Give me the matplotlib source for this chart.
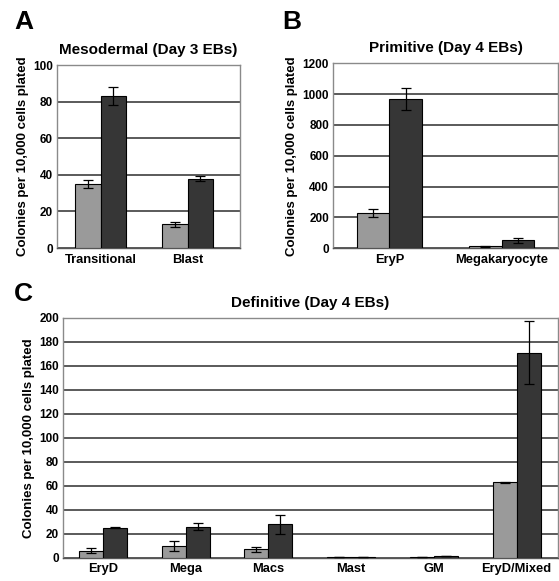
import matplotlib.pyplot as plt
import numpy as np

plt.rcParams['font.family'] = ['Liberation Sans', 'DejaVu Sans']
plt.rcParams['font.weight'] = 'bold'

# panel A: mesodermal (day 3)
cats_a = ['Transitional', 'Blast']
light_a = [35, 13]
light_a_err = [2, 1.5]
dark_a = [83, 38]
dark_a_err = [5, 1.5]

# panel B: primitive (day 4)
cats_b = ['EryP', 'Megakaryocyte']
light_b = [230, 12]
light_b_err = [25, 3]
dark_b = [970, 50]
dark_b_err = [70, 15]

# panel C: definitive (day 4)
cats_c = ['EryD', 'Mega', 'Macs', 'Mast', 'GM', 'EryD/Mixed']
light_c = [6, 10, 7, 0.5, 0.5, 63]
light_c_err = [2, 4, 2, 0, 0, 0.5]
dark_c = [25, 26, 28, 0.5, 1.5, 171]
dark_c_err = [0.5, 3, 8, 0, 0, 26]

LIGHT = '#9a9a9a'
DARK = '#363636'
GRID = '#5a5a5a'
BW = 0.29


def panel(ax, cats, light, lerr, dark, derr, ymax, step, title, xlim):
    x = np.arange(len(cats))
    ax.bar(x - BW / 2, light, BW, color=LIGHT, edgecolor='black', linewidth=0.8, zorder=3)
    ax.bar(x + BW / 2, dark, BW, color=DARK, edgecolor='black', linewidth=0.8, zorder=3)
    ax.errorbar(x - BW / 2, light, yerr=lerr, fmt='none', ecolor='black', elinewidth=0.9, capsize=3.5, capthick=0.9, zorder=4)
    ax.errorbar(x + BW / 2, dark, yerr=derr, fmt='none', ecolor='black', elinewidth=0.9, capsize=3.5, capthick=0.9, zorder=4)
    ax.set_ylim(0, ymax)
    ax.set_xlim(*xlim)
    ax.set_yticks(np.arange(0, ymax + 1, step))
    ax.set_xticks(x)
    ax.set_xticklabels(cats, fontsize=9.3, fontweight='bold')
    ax.tick_params(axis='x', length=0, pad=4)
    ax.tick_params(axis='y', length=0, labelsize=8.5, pad=3)
    ax.yaxis.grid(True, color=GRID, linewidth=1.4, zorder=0)
    ax.set_axisbelow(True)
    for s in ax.spines.values():
        s.set_color('#8a8a8a')
        s.set_linewidth(1.0)
    ax.spines['bottom'].set_color('#555555')
    ax.set_ylabel('Colonies per 10,000 cells plated', fontsize=9.5, fontweight='bold', labelpad=3)
    ax.set_title(title, fontsize=11, fontweight='bold', pad=8)


fig = plt.figure(figsize=(5.59, 5.81), dpi=100)

ax_a = fig.add_axes([0.102, 0.573, 0.327, 0.315])
panel(ax_a, cats_a, light_a, light_a_err, dark_a, dark_a_err, 100, 20, 'Mesodermal (Day 3 EBs)', (-0.5, 1.6))

ax_b = fig.add_axes([0.596, 0.573, 0.402, 0.318])
panel(ax_b, cats_b, light_b, light_b_err, dark_b, dark_b_err, 1200, 200, 'Primitive (Day 4 EBs)', (-0.5, 1.5))

ax_c = fig.add_axes([0.113, 0.040, 0.885, 0.413])
panel(ax_c, cats_c, light_c, light_c_err, dark_c, dark_c_err, 200, 20, 'Definitive (Day 4 EBs)', (-0.48, 5.5))

fig.text(0.025, 0.983, 'A', fontsize=19, fontweight='bold', va='top')
fig.text(0.505, 0.983, 'B', fontsize=19, fontweight='bold', va='top')
fig.text(0.025, 0.515, 'C', fontsize=19, fontweight='bold', va='top')

fig.savefig('out.png', dpi=100)
